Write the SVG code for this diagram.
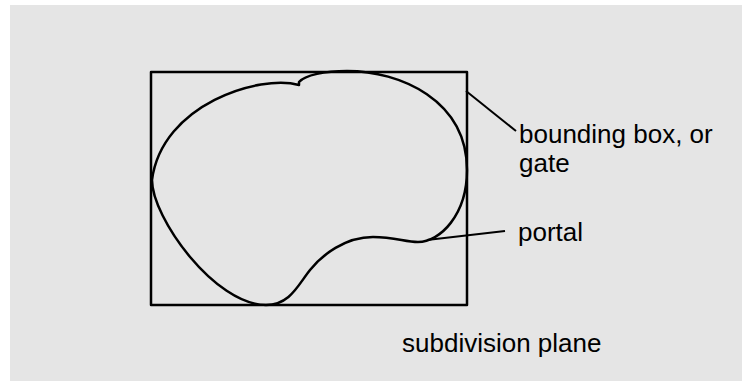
<svg xmlns="http://www.w3.org/2000/svg" width="742" height="381" viewBox="0 0 742 381">
  <style>
    .shape { fill: none; stroke: #000; stroke-width: 2.5; stroke-linejoin: round; }
    .leader { fill: none; stroke: #000; stroke-width: 2; }
    .label { font-family: "Liberation Sans", Arial, sans-serif; font-size: 26px; fill: #000; }
  </style>
  <rect x="0" y="0" width="742" height="381" fill="#ffffff"/>
  <rect x="10" y="5" width="732" height="376" fill="#e5e5e5"/>

  <g id="bounding-box">
    <rect class="shape" x="151" y="72" width="316" height="233"/>
  </g>

  <g id="region">
    <path class="shape" d="M 299 85
      C 260 74, 162 104, 152 180
      C 152 218, 215 305, 266 305
      C 290 305, 298 285, 310 270
      C 322 255, 345 237, 373 237
      C 395 237, 405 242, 418 242
      C 440 242, 467 215, 467 170
      C 467 100, 400 71, 347 71
      C 325 71, 305 75, 299 82 Z"/>
  </g>

  <g id="connectors">
    <line class="leader" x1="466" y1="91" x2="516" y2="131"/>
    <line class="leader" x1="427" y1="240" x2="505" y2="231"/>
  </g>

  <g id="label-gate">
    <text class="label" x="519" y="143">bounding box, or</text>
    <text class="label" x="519" y="172">gate</text>
  </g>
  <g id="label-portal">
    <text class="label" x="518" y="241">portal</text>
  </g>
  <g id="label-plane">
    <text class="label" x="402" y="352">subdivision plane</text>
  </g>
</svg>
